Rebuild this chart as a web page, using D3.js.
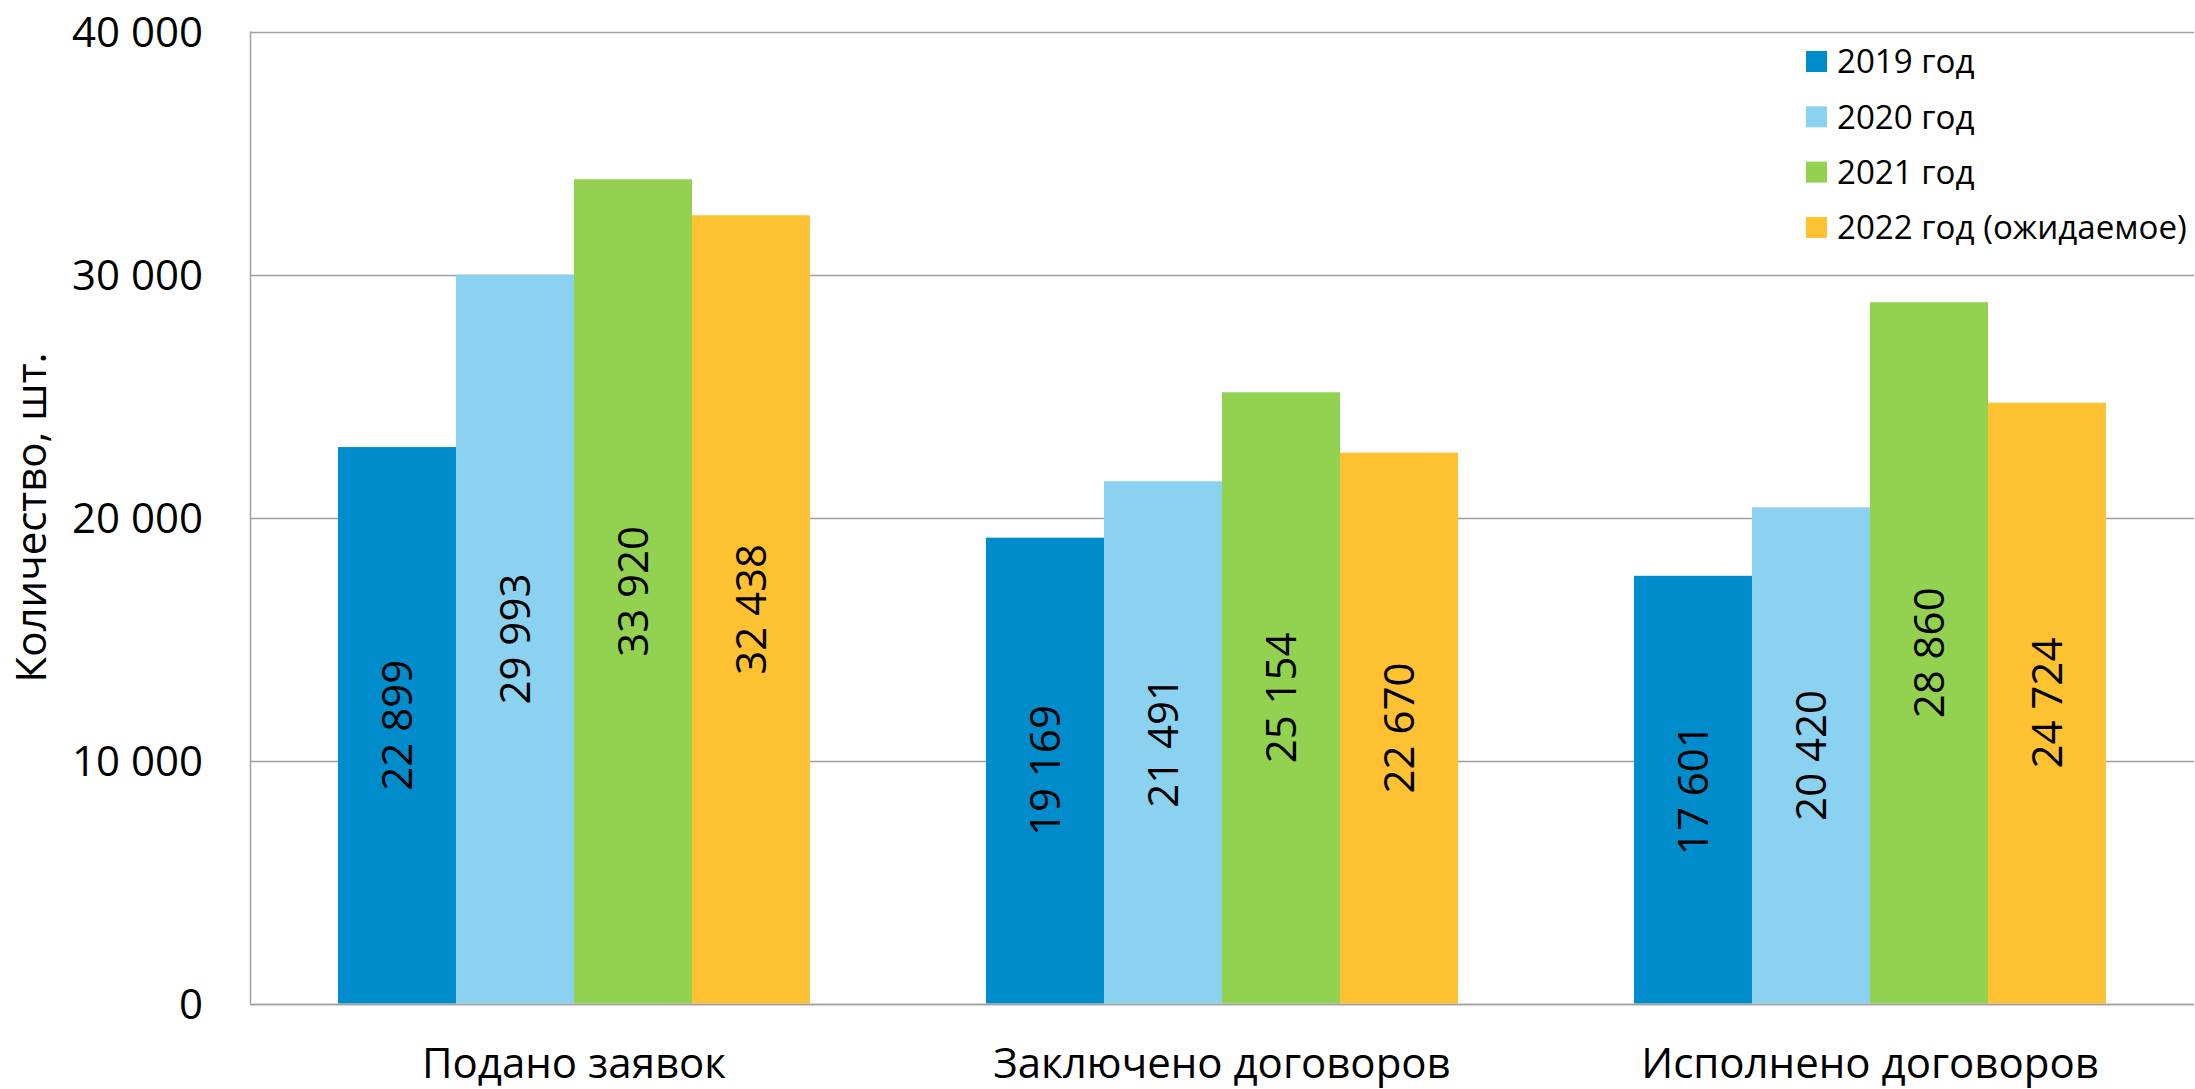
<!DOCTYPE html>
<html>
<head>
<meta charset="utf-8">
<script src="https://cdn.jsdelivr.net/npm/d3@7"></script>
<style>
  body { margin: 0; background: #fff; }
  text { font-family: "Open Sans", sans-serif; fill: #000; }
</style>
</head>
<body>
<div id="chart"></div>
<script>
const categories = ["Подано заявок", "Заключено договоров", "Исполнено договоров"];
const series = ["2019 год", "2020 год", "2021 год", "2022 год (ожидаемое)"];
const values2019 = [22899, 19169, 17601];
const values2020 = [29993, 21491, 20420];
const values2021 = [33920, 25154, 28860];
const values2022 = [32438, 22670, 24724];
const yTicks = [0, 10000, 20000, 30000, 40000];
const colors = ["#008ccb", "#8ad2ef", "#93d150", "#fdc131"];

const allValues = [values2019, values2020, values2021, values2022];

const W = 2195, H = 1089;
const mg = { left: 250, right: 1, top: 31.5, bottom: 85.5 };

const locale = d3.formatLocale({ decimal: ",", thousands: "\u00a0", grouping: [3], currency: ["", ""] });
const fmt = locale.format(",d");

const svg = d3.select("#chart").append("svg")
  .attr("width", W)
  .attr("height", H);

const x0 = d3.scaleBand()
  .domain(categories)
  .range([mg.left, W - mg.right])
  .paddingInner(0.2716)
  .paddingOuter(0.1358);

const x1 = d3.scaleBand()
  .domain(series)
  .range([0, x0.bandwidth()]);

const y = d3.scaleLinear()
  .domain([0, 40000])
  .range([H - mg.bottom, mg.top]);

// gridlines
svg.append("g")
  .selectAll("line")
  .data(yTicks)
  .enter().append("line")
  .attr("x1", mg.left)
  .attr("x2", W - mg.right)
  .attr("y1", d => Math.round(y(d)) + 0.5)
  .attr("y2", d => Math.round(y(d)) + 0.5)
  .style("stroke", "#a0a0a0")
  .style("stroke-width", 1.5);

// left axis line
svg.append("line")
  .attr("x1", mg.left + 0.5).attr("x2", mg.left + 0.5)
  .attr("y1", y(40000)).attr("y2", y(0))
  .style("stroke", "#a0a0a0")
  .style("stroke-width", 1.5);

// tick labels
svg.append("g")
  .selectAll("text")
  .data(yTicks)
  .enter().append("text")
  .attr("x", 203)
  .attr("y", d => y(d))
  .attr("dy", "0.36em")
  .style("text-anchor", "end")
  .style("font-size", "42px")
  .text(d => fmt(d));

// bars
const groups = svg.append("g")
  .selectAll("g")
  .data(categories)
  .enter().append("g")
  .attr("transform", d => `translate(${x0(d)},0)`);

const barData = (c, ci) => series.map((s, si) => ({ s, si, v: allValues[si][ci] }));

groups.selectAll("rect")
  .data((c, ci) => barData(c, ci))
  .enter().append("rect")
  .attr("x", d => x1(d.s))
  .attr("y", d => y(d.v))
  .attr("width", x1.bandwidth())
  .attr("height", d => y(0) - y(d.v))
  .style("fill", d => colors[d.si]);

// bar value labels
groups.selectAll("text")
  .data((c, ci) => barData(c, ci))
  .enter().append("text")
  .attr("transform", d => `translate(${x1(d.s) + x1.bandwidth() / 2},${(y(d.v) + y(0)) / 2}) rotate(-90)`)
  .attr("dy", "0.36em")
  .style("text-anchor", "middle")
  .style("font-size", "42px")
  .text(d => fmt(d.v));

// bottom axis line on top of bars
svg.append("line")
  .attr("x1", mg.left).attr("x2", W - mg.right)
  .attr("y1", Math.round(y(0)) + 0.5).attr("y2", Math.round(y(0)) + 0.5)
  .style("stroke", "#a0a0a0")
  .style("stroke-width", 1.5);

// category labels
svg.append("g")
  .selectAll("text")
  .data(categories)
  .enter().append("text")
  .attr("x", d => x0(d) + x0.bandwidth() / 2)
  .attr("y", 1078)
  .style("text-anchor", "middle")
  .style("font-size", "42px")
  .text(d => d);

// y axis title
svg.append("text")
  .attr("transform", `translate(31,${(y(0) + y(40000)) / 2}) rotate(-90)`)
  .attr("dy", "0.36em")
  .style("text-anchor", "middle")
  .style("font-size", "42px")
  .text("Количество, шт.");

// legend
const legend = svg.append("g")
  .selectAll("g")
  .data(series)
  .enter().append("g")
  .attr("transform", (d, i) => `translate(1806,${51 + i * 55.3})`);

legend.append("rect")
  .attr("width", 21)
  .attr("height", 21)
  .style("fill", (d, i) => colors[i]);

const legendText = legend.append("text")
  .attr("x", 31)
  .attr("y", 10.5)
  .attr("dy", "0.36em")
  .style("font-size", "36px")
  .text(d => d);

// shrink legend font so the longest entry fits like the original (ends near x=2187)
const maxLen = d3.max(legendText.nodes(), n => n.getComputedTextLength());
const avail = 2187 - 1837;
if (maxLen > avail) {
  legendText.style("font-size", (36 * avail / maxLen) + "px");
}
</script>
</body>
</html>
